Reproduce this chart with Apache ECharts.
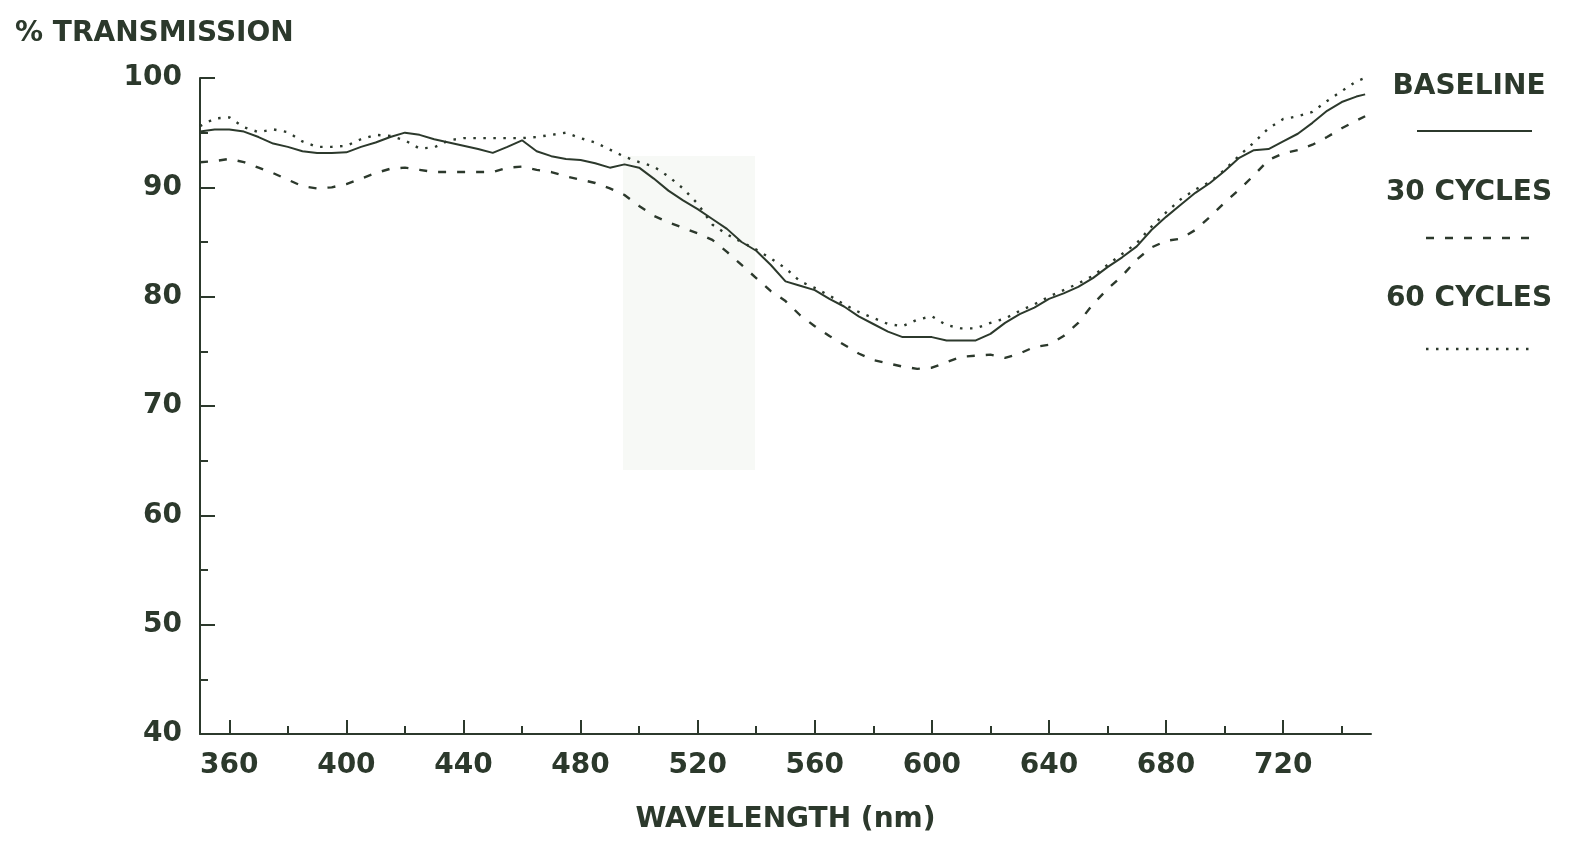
<!DOCTYPE html>
<html>
<head>
<meta charset="utf-8">
<script src="https://cdn.jsdelivr.net/npm/echarts@6/dist/echarts.min.js"></script>
<style>
html,body{margin:0;padding:0;background:#ffffff;}
#chart{width:1575px;height:842px;}
</style>
</head>
<body>
<div id="chart"></div>
<script>
const wavelengths = [350,355,360,365,370,375,380,385,390,395,
  400,405,410,415,420,425,430,435,440,445,
  450,455,460,465,470,475,480,485,490,495,
  500,505,510,515,520,525,530,535,540,545,
  550,555,560,565,570,575,580,585,590,595,
  600,605,610,615,620,625,630,635,640,645,
  650,655,660,665,670,675,680,685,690,695,
  700,705,710,715,720,725,730,735,740,745,748];

const baseline = [95.1,95.3,95.3,95.1,94.6,94.0,93.7,93.3,93.15,93.15,
  93.2,93.7,94.1,94.6,95.0,94.8,94.4,94.1,93.8,93.5,
  93.15,93.7,94.3,93.3,92.85,92.6,92.5,92.2,91.8,92.1,
  91.8,90.8,89.7,88.8,88.0,87.1,86.2,85.0,84.2,82.9,
  81.4,81.0,80.6,79.8,79.1,78.2,77.5,76.8,76.3,76.3,
  76.3,76.0,76.0,76.0,76.6,77.6,78.4,79.0,79.8,80.3,
  80.9,81.7,82.7,83.6,84.6,86.1,87.3,88.4,89.5,90.4,
  91.5,92.7,93.4,93.5,94.2,94.9,95.9,97.0,97.8,98.3,98.5];

const cycles30 = [92.3,92.4,92.6,92.3,91.8,91.3,90.7,90.1,89.9,90.0,
  90.3,90.8,91.3,91.7,91.8,91.6,91.4,91.4,91.4,91.4,
  91.4,91.8,91.9,91.6,91.4,91.0,90.7,90.4,89.9,89.3,
  88.3,87.4,86.8,86.3,85.8,85.2,84.1,82.9,81.7,80.5,
  79.6,78.3,77.3,76.4,75.6,74.8,74.2,73.9,73.6,73.4,
  73.5,74.0,74.5,74.6,74.7,74.4,74.8,75.4,75.6,76.4,
  77.6,79.3,80.7,81.9,83.4,84.5,85.1,85.3,86.1,87.3,
  88.6,89.8,91.1,92.5,93.1,93.4,93.9,94.6,95.4,96.1,96.5];

const cycles60 = [95.6,96.3,96.4,95.5,95.05,95.3,95.05,94.2,93.7,93.7,
  93.8,94.4,94.8,94.7,94.3,93.55,93.65,94.3,94.5,94.5,
  94.5,94.5,94.5,94.6,94.8,95.0,94.5,94.1,93.45,92.8,
  92.3,91.9,91.0,89.9,88.5,86.6,85.7,85.0,84.3,83.5,
  82.6,81.4,80.8,80.1,79.3,78.6,78.05,77.5,77.3,77.9,
  78.2,77.4,77.1,77.1,77.6,78.0,78.7,79.3,80.0,80.6,
  81.2,81.9,82.9,83.9,84.9,86.4,87.7,88.9,89.8,90.5,
  91.6,92.9,94.1,95.4,96.25,96.5,96.9,97.9,98.8,99.7,100.0];

const xMajorTicks = [360,400,440,480,520,560,600,640,680,720];
const xMinorTicks = [380,420,460,500,540,580,620,660,700,740];
const seriesNames = ['BASELINE','30 CYCLES','60 CYCLES'];
const titleText = '% TRANSMISSION';
const xAxisTitle = 'WAVELENGTH (nm)';

const INK = '#2c392c';
const FONT = 'DejaVu Sans';
const pair = (vals) => wavelengths.map((w, i) => [w, vals[i]]);

const chart = echarts.init(document.getElementById('chart'), null, {renderer: 'canvas'});

const legendItems = [
  {name: seriesNames[0], ty: 87, ly: 131, x1: 1417, x2: 1532, dash: null},
  {name: seriesNames[1], ty: 193, ly: 238, x1: 1426, x2: 1532, dash: [8, 11]},
  {name: seriesNames[2], ty: 299, ly: 349, x1: 1426, x2: 1531, dash: [2.5, 7.5]}
];
const graphics = [
  {type: 'rect', z: -10, silent: true, shape: {x: 623, y: 156, width: 132, height: 314},
   style: {fill: '#f7f9f6'}}
];
legendItems.forEach(it => {
  graphics.push({type: 'text', x: 1469, y: it.ty, style: {text: it.name, fill: INK,
    font: 'bold 28px "' + FONT + '"', align: 'center', verticalAlign: 'middle'}});
  graphics.push({type: 'line', shape: {x1: it.x1, y1: it.ly, x2: it.x2, y2: it.ly},
    style: {stroke: INK, lineWidth: it.dash ? 2.4 : 2, lineDash: it.dash}});
});

chart.setOption({
  backgroundColor: '#ffffff',
  animation: false,
  title: {text: titleText, left: 10, top: 15,
    textStyle: {fontFamily: FONT, fontWeight: 'bold', fontSize: 28, color: INK}},
  grid: {left: 200, right: 204, top: 78, bottom: 108, containLabel: false},
  xAxis: [{
    type: 'value', min: 350, max: 750, position: 'bottom',
    name: xAxisTitle, nameLocation: 'middle', nameGap: 72,
    nameTextStyle: {fontFamily: FONT, fontWeight: 'bold', fontSize: 28, color: INK},
    axisLine: {show: true, lineStyle: {color: INK, width: 2}},
    axisTick: {show: true, inside: true, length: 14, customValues: xMajorTicks,
      lineStyle: {color: INK, width: 2}},
    axisLabel: {show: true, customValues: xMajorTicks, margin: 18,
      fontFamily: FONT, fontWeight: 'bold', fontSize: 28, color: INK},
    splitLine: {show: false}
  }, {
    type: 'value', min: 350, max: 750, position: 'bottom', gridIndex: 0,
    axisLine: {show: false},
    axisTick: {show: true, inside: true, length: 8, customValues: xMinorTicks,
      lineStyle: {color: INK, width: 2}},
    axisLabel: {show: false},
    splitLine: {show: false}
  }],
  yAxis: {
    type: 'value', min: 40, max: 100, interval: 10,
    axisLine: {show: true, lineStyle: {color: INK, width: 2}},
    axisTick: {show: true, inside: true, length: 15, lineStyle: {color: INK, width: 2}},
    minorTick: {show: true, splitNumber: 2, length: 8, lineStyle: {color: INK, width: 2}},
    axisLabel: {margin: 18, fontFamily: FONT, fontWeight: 'bold', fontSize: 28, color: INK},
    splitLine: {show: false}
  },
  series: [
    {name: seriesNames[0], type: 'line', data: pair(baseline), showSymbol: false, clip: false,
     lineStyle: {color: INK, width: 2, type: 'solid'}},
    {name: seriesNames[1], type: 'line', data: pair(cycles30), showSymbol: false, clip: false,
     lineStyle: {color: INK, width: 2.4, type: [8, 11]}},
    {name: seriesNames[2], type: 'line', data: pair(cycles60), showSymbol: false, clip: false,
     lineStyle: {color: INK, width: 2.4, type: [2.5, 7.5]}}
  ],
  graphic: graphics
});
</script>
</body>
</html>
